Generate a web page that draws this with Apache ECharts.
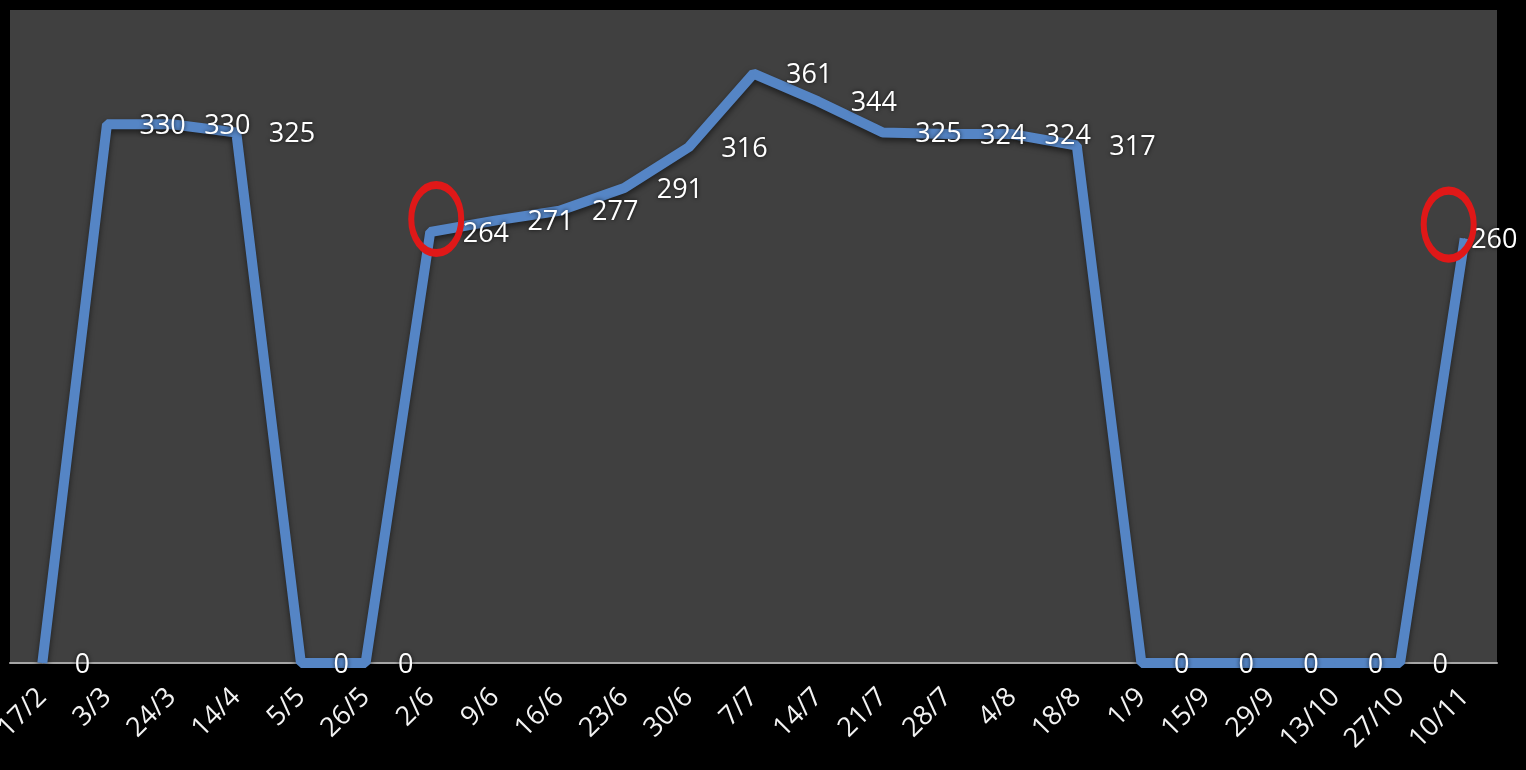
<!DOCTYPE html>
<html>
<head>
<meta charset="utf-8">
<script src="https://cdn.jsdelivr.net/npm/echarts@6/dist/echarts.min.js"></script>
<style>
  html, body { margin: 0; padding: 0; background: #000; }
  #lineChart { width: 1526px; height: 770px; }
</style>
</head>
<body>
<div id="lineChart"></div>
<script>
// 日期
var categories = ['17/2', '3/3', '24/3', '14/4', '5/5', '26/5', '2/6', '9/6', '16/6', '23/6', '30/6', '7/7',
  '14/7', '21/7', '28/7', '4/8', '18/8', '1/9', '15/9', '29/9', '13/10', '27/10', '10/11'];
// 数值
var values = [0, 330, 330, 325, 0, 0, 264, 271, 277, 291, 316, 361,
  344, 325, 324, 324, 317, 0, 0, 0, 0, 0, 260];
// 红圈标记的点
var circled = ['2/6', '10/11'];

var labelFont = '"Open Sans", "Noto Sans", sans-serif';

var seriesData = values.map(function (v, i) {
  var item = { value: v };
  if (i === values.length - 1) {
    item.label = { distance: 6 };
  }
  return item;
});

var markData = circled.map(function (c, k) {
  var idx = categories.indexOf(c);
  return {
    coord: [c, values[idx]],
    symbolOffset: k === 0 ? [6, -13] : [-16, -14]
  };
});

var option = {
  backgroundColor: '#000',
  animation: false,
  grid: {
    left: 10,
    right: 29,
    top: 10,
    bottom: 107,
    outerBoundsMode: 'none',
    show: true,
    backgroundColor: '#404040',
    borderWidth: 0
  },
  xAxis: {
    type: 'category',
    data: categories,
    boundaryGap: true,
    axisLine: { lineStyle: { color: '#a6a6a6', width: 2 } },
    axisTick: { show: false },
    axisLabel: {
      rotate: 45,
      margin: 30,
      interval: 0,
      color: '#f2f2f2',
      fontSize: 27,
      fontFamily: labelFont,
      textShadowColor: 'rgba(0,0,0,0.8)',
      textShadowBlur: 3
    }
  },
  yAxis: {
    type: 'value',
    min: 0,
    max: 400,
    show: false,
    splitLine: { show: false }
  },
  series: [{
    type: 'line',
    data: seriesData,
    symbol: 'circle',
    symbolSize: 1,
    lineStyle: {
      color: '#5585c5',
      width: 10,
      shadowColor: 'rgba(0,0,0,0.55)',
      shadowBlur: 6,
      shadowOffsetY: 3
    },
    itemStyle: { color: '#5585c5' },
    label: {
      show: true,
      position: 'right',
      distance: 32,
      offset: [0, 2],
      color: '#ffffff',
      fontSize: 27,
      fontFamily: labelFont,
      textShadowColor: 'rgba(0,0,0,0.8)',
      textShadowBlur: 4
    },
    markPoint: {
      symbol: 'circle',
      symbolSize: [50, 68],
      itemStyle: {
        color: 'rgba(0,0,0,0)',
        borderColor: '#e01818',
        borderWidth: 7
      },
      label: { show: false },
      data: markData
    }
  }]
};

var chart = echarts.init(document.getElementById('lineChart'));
chart.setOption(option);
window.onresize = chart.resize;
</script>
</body>
</html>
